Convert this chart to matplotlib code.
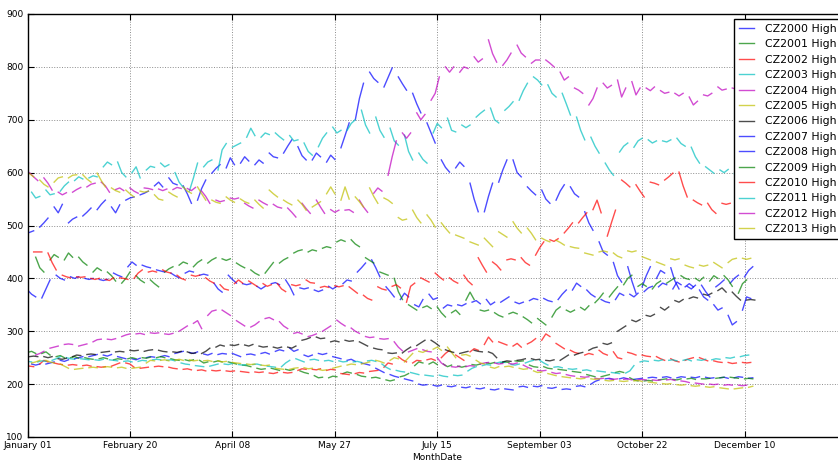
import datetime as dt
import numpy as np
import matplotlib
matplotlib.use("Agg")
import matplotlib.pyplot as plt

# ---------------- data ----------------
years = list(range(2000, 2014))
labels = ["CZ%d High" % y for y in years]
colors = ["b", "g", "r", "c", "m", "y", "k", "b", "b", "g", "r", "c", "m", "y"]
tick_labels = ["January 01", "February 20", "April 08", "May 27", "July 15",
               "September 03", "October 22", "December 10"]
y_ticks = [100, 200, 300, 400, 500, 600, 700, 800, 900]

# weekly readings: [Mon, Wed, Fri] high prices (cents/bu), week by week
CZ2000 = [[238,236,238],[238,240,242],[245,243,246],[248,250,252],[252,254,256],[255,253,256],
          [252,250,248],[248,246,249],[250,252,251],[252,254,252],[258,260,262],[260,258,261],
          [257,255,258],[256,258,257],[258,255,252],[256,257,255],[258,260,257],[262,265,263],
          [268,262,265],[255,252,255],[258,256,258],[252,250,248],[245,247,243],[240,238,236],
          [230,226,222],[218,215,213],[210,208,206],[200,198,199],[198,196,198],[196,195,197],
          [194,193,195],[192,191,193],[190,189,191],[191,190,189],[195,196,194],[196,195,197],
          [193,192,194],[190,191,190],[196,197,195],[200,205,208],[210,211,209],[210,212,210],
          [209,210,211],[212,213,212],[213,214,212],[212,214,213],[213,212,214],[213,211,212],
          [212,213,211],[212,214,213],[211,212,211],[211,211,211]]
CZ2001 = [[260,262,258],[258,261,255],[252,254,250],[250,252,249],[250,248,247],[248,250,248],
          [246,248,247],[248,250,248],[250,249,251],[250,252,250],[248,246,245],[246,244,246],
          [245,240,242],[242,244,242],[242,240,238],[236,235,233],[230,228,229],[230,228,226],
          [228,226,228],[225,222,220],[216,212,213],[212,215,214],[220,223,221],[218,215,214],
          [212,213,211],[208,206,208],[214,216,220],[235,242,240],[238,242,237],[238,233,236],
          [234,232,234],[237,236,238],[240,239,241],[240,242,241],[244,243,244],[236,233,232],
          [233,230,229],[228,227,226],[224,223,222],[218,216,214],[214,216,218],[222,224,222],
          [212,208,206],[206,207,206],[208,209,210],[209,208,210],[210,211,209],[210,210,211],
          [211,212,213],[213,212,211],[210,211,210],[210,210,210]]
CZ2002 = [[236,234,233],[238,245,242],[240,238,237],[236,237,236],[235,236,234],[233,232,233],
          [234,237,240],[240,238,232],[230,231,232],[233,234,233],[232,230,229],[228,229,227],
          [226,227,225],[226,225,226],[225,224,225],[224,223,222],[223,222,223],[221,220,222],
          [222,221,222],[226,229,228],[228,227,229],[226,228,227],[220,219,218],[220,222,221],
          [224,225,226],[232,240,238],[252,246,242],[240,245,244],[246,248,245],[250,258,264],
          [255,250,245],[261,267,264],[275,289,280],[280,277,274],[272,277,270],[276,280,286],
          [283,295,290],[277,272,267],[264,260,258],[255,258,256],[264,258,255],[261,250,248],
          [260,258,255],[255,253,252],[252,248,245],[248,244,242],[245,248,250],[250,247,244],
          [244,242,241],[241,239,240],[241,240,241],[241,241,241]]
CZ2003 = [[245,243,242],[242,244,243],[245,248,252],[250,248,247],[248,247,246],[246,245,247],
          [246,245,244],[243,244,242],[243,245,244],[246,247,246],[245,246,244],[240,238,237],
          [235,234,233],[234,236,238],[238,237,239],[237,236,237],[237,238,236],[234,233,232],
          [233,240,245],[248,245,242],[246,247,245],[244,245,243],[244,242,243],[242,243,241],
          [244,245,243],[238,232,228],[226,224,223],[222,220,218],[217,216,215],[217,215,214],
          [217,216,217],[225,230,233],[235,237,236],[240,242,241],[237,236,238],[240,243,245],
          [245,240,236],[232,233,231],[229,228,229],[226,227,225],[225,224,223],[222,221,220],
          [221,225,235],[242,244,243],[245,244,246],[245,246,244],[245,247,244],[246,245,247],
          [246,248,247],[250,249,251],[252,254,255],[255,255,255]]
CZ2004 = [[255,255,256],[255,258,262],[268,270,272],[275,276,275],[272,274,276],[280,284,285],
          [285,284,286],[290,293,295],[295,296,294],[297,296,297],[295,294,296],[300,305,310],
          [315,320,305],[330,338,340],[340,335,330],[320,315,310],[308,312,318],[324,326,322],
          [318,310,305],[296,298,295],[290,292,295],[300,305,310],[321,315,310],[306,300,296],
          [290,288,289],[286,285,286],[280,270,263],[261,264,267],[265,262,261],[250,240,235],
          [233,232,234],[233,235,234],[238,240,241],[240,238,239],[239,238,240],[236,232,229],
          [226,225,226],[222,220,221],[218,216,215],[214,213,214],[211,210,211],[210,209,210],
          [209,210,208],[208,209,208],[208,207,208],[208,209,207],[206,205,203],[202,201,200],
          [200,199,200],[198,199,198],[198,197,198],[198,198,198]]
CZ2005 = [[240,242,245],[245,242,240],[238,234,230],[228,229,230],[231,232,231],[232,233,232],
          [231,232,230],[230,231,232],[240,245,244],[245,246,244],[245,247,245],[246,244,245],
          [244,245,243],[244,242,243],[241,240,239],[238,237,238],[236,235,236],[230,229,228],
          [228,230,231],[231,229,230],[228,226,227],[230,232,234],[236,238,237],[238,240,242],
          [245,243,240],[245,250,248],[242,250,258],[262,260,264],[266,270,264],[270,260,250],
          [255,256,253],[245,240,238],[232,230,233],[233,234,232],[230,228,229],[225,222,223],
          [220,218,216],[214,213,212],[211,210,211],[210,209,210],[207,206,207],[206,205,206],
          [206,207,205],[204,203,202],[201,200,201],[199,198,199],[197,196,197],[195,194,195],
          [193,192,191],[191,192,193],[194,196,197],[197,197,197]]
CZ2006 = [[252,253,252],[252,250,252],[248,247,249],[252,255,254],[256,257,256],[260,261,262],
          [261,262,261],[264,263,264],[262,264,265],[264,262,261],[261,260,262],[261,258,259],
          [258,262,268],[270,274,272],[274,273,275],[274,272,275],[272,270,271],[270,268,270],
          [270,268,272],[283,285,288],[289,286,287],[280,282,280],[283,281,282],[280,276,272],
          [268,266,265],[259,258,259],[259,265,270],[273,278,283],[283,278,272],[265,262,260],
          [258,260,262],[264,262,261],[261,258,250],[242,244,243],[245,246,248],[248,246,247],
          [245,244,246],[245,250,255],[255,258,260],[264,268,270],[277,275,278],[300,305,310],
          [321,318,322],[330,328,332],[345,340,346],[358,355,360],[362,365,363],[370,368,372],
          [377,382,374],[374,366,359],[359,360,359],[359,359,359]]
CZ2007 = [[378,370,365],[363,380,397],[406,400,397],[403,400,403],[400,398,400],[398,396,398],
          [410,406,403],[422,431,425],[425,422,420],[416,414,412],[410,405,401],[410,414,412],
          [406,408,406],[391,380,374],[406,398,391],[390,388,390],[385,380,385],[390,392,388],
          [397,385,369],[382,380,382],[378,375,378],[385,380,385],[390,397,395],[412,420,429],
          [435,420,403],[384,375,365],[360,372,365],[350,346,360],[370,360,363],[344,350,348],
          [350,348,352],[355,358,352],[360,350,355],[355,360,365],[355,352,355],[358,362,360],
          [362,358,356],[360,370,378],[378,391,385],[378,370,365],[360,356,354],[360,372,368],
          [370,365,372],[375,382,385],[384,391,388],[380,393,388],[385,380,387],[387,375,365],
          [384,390,397],[391,400,406],[403,415,422],[422,422,422]]
CZ2008 = [[488,487,490],[497,505,514],[535,524,540],[505,512,516],[518,525,533],[530,540,548],
          [535,524,539],[548,552,554],[558,561,565],[575,582,573],[590,580,577],[575,560,542],
          [548,570,586],[599,608,615],[609,628,615],[618,630,622],[615,624,618],[637,630,628],
          [637,650,662],[649,632,624],[624,637,630],[620,633,625],[647,670,694],[700,740,769],
          [790,778,771],[762,780,798],[781,768,756],[750,730,713],[694,675,656],[624,610,601],
          [609,620,612],[580,550,526],[526,555,580],[582,605,624],[624,600,592],[573,565,558],
          [567,550,542],[548,565,577],[573,560,554],[526,505,491],[469,450,444],[430,405,393],
          [422,395,372],[384,405,422],[400,415,410],[420,395,380],[384,390,384],[378,365,359],
          [350,340,344],[330,312,318],[340,365,362],[360,360,360]]
CZ2009 = [[462,471,462],[440,420,412],[435,445,440],[435,448,440],[440,431,425],[412,420,415],
          [412,405,395],[391,400,412],[405,397,392],[397,390,384],[412,418,422],[425,431,428],
          [422,430,435],[429,435,439],[437,434,437],[429,424,420],[416,410,406],[410,420,430],
          [429,435,439],[448,452,454],[450,454,452],[457,460,458],[469,473,470],[473,465,460],
          [439,434,429],[412,409,406],[400,375,360],[350,345,340],[345,348,343],[346,335,327],
          [335,340,332],[359,374,360],[340,338,340],[335,330,327],[333,336,333],[327,322,316],
          [324,318,312],[327,340,346],[340,336,340],[345,340,348],[354,362,372],[365,375,384],
          [388,400,406],[385,390,385],[380,390,395],[391,396,401],[405,400,398],[400,395,402],
          [395,405,400],[405,397,385],[372,390,397],[397,397,397]]
CZ2010 = [[450,450,450],[448,430,416],[406,403,401],[403,402,403],[400,398,400],[398,396,401],
          [401,400,398],[400,410,416],[412,414,412],[416,412,410],[406,400,397],[406,404,406],
          [401,395,391],[388,380,378],[390,397,391],[395,390,385],[390,385,388],[390,380,375],
          [388,386,388],[397,392,391],[383,385,383],[386,384,386],[384,378,372],[368,362,359],
          [384,380,378],[385,388,382],[355,385,391],[401,397,393],[410,403,397],[401,395,391],
          [406,395,388],[439,425,412],[431,425,416],[435,437,435],[439,430,425],[444,458,469],
          [473,470,475],[486,495,505],[505,515,524],[530,548,524],[480,505,529],[586,580,573],
          [577,565,554],[582,580,577],[586,592,599],[601,575,554],[548,543,539],[542,530,523],
          [542,540,542],[561,555,554],[550,552,550],[550,550,550]]
CZ2011 = [[563,552,555],[567,558,560],[565,575,582],[585,592,588],[590,594,592],[611,620,615],
          [620,600,592],[600,611,590],[605,612,610],[618,611,615],[600,582,572],[565,590,618],
          [611,620,624],[605,643,655],[648,652,656],[667,684,670],[667,675,672],[675,668,662],
          [670,660,662],[656,640,633],[649,665,675],[686,675,680],[680,693,700],[718,690,675],
          [705,680,667],[684,660,652],[671,640,624],[637,625,618],[675,693,685],[703,680,677],
          [690,685,690],[705,712,718],[722,700,694],[718,725,734],[737,755,769],[781,775,766],
          [766,750,743],[750,730,709],[705,680,662],[667,650,637],[618,605,595],[639,650,656],
          [648,660,665],[662,656,660],[660,658,662],[665,655,650],[648,630,618],[611,605,599],
          [605,600,606],[598,596,592],[590,592,590],[590,590,590]]
CZ2012 = [[600,592,585],[590,580,567],[563,558,562],[563,568,572],[573,578,580],[582,575,563],
          [568,571,566],[571,565,561],[571,570,568],[569,566,569],[568,572,570],[570,566,572],
          [565,555,542],[548,545,547],[552,550,552],[542,537,533],[548,543,539],[540,535,533],
          [533,525,516],[542,532,523],[548,535,523],[530,525,529],[529,530,525],[548,535,525],
          [561,571,565],[595,630,660],[675,665,675],[713,700,710],[737,750,781],[800,790,800],
          [790,800,797],[819,809,815],[851,825,809],[803,813,826],[841,826,819],[807,813,813],
          [813,807,800],[790,775,781],[760,756,750],[728,740,760],[769,760,765],[775,743,760],
          [772,747,760],[760,755,762],[755,750,752],[750,745,750],[743,728,735],[747,745,750],
          [762,756,758],[760,758,762],[757,760,757],[757,757,757]]
CZ2013 = [[605,598,592],[586,578,573],[582,590,592],[590,595,596],[596,588,582],[599,585,573],
          [571,566,563],[567,560,554],[565,563,565],[558,550,548],[563,558,554],[573,565,561],
          [573,560,548],[548,544,542],[554,548,544],[550,545,542],[548,540,533],[567,560,554],
          [548,543,539],[548,540,529],[535,540,545],[560,573,560],[548,573,550],[554,545,535],
          [571,555,542],[552,548,542],[515,510,512],[529,515,505],[520,510,497],[505,495,486],
          [482,479,476],[469,466,463],[476,468,460],[488,483,478],[507,495,486],[495,485,473],
          [476,472,469],[472,468,463],[460,458,457],[448,446,444],[450,452,450],[448,442,439],
          [452,450,452],[441,438,435],[431,428,425],[437,435,437],[425,422,420],[425,423,425],
          [430,425,420],[430,436,438],[438,436,438],[438,438,438]]

series = [CZ2000, CZ2001, CZ2002, CZ2003, CZ2004, CZ2005, CZ2006,
          CZ2007, CZ2008, CZ2009, CZ2010, CZ2011, CZ2012, CZ2013]

WEEKDAY_OFFSETS = (0, 2, 4)   # Mon, Wed, Fri
LAST_DAY = 355                # contract expiry (mid December)


def build_xy(year, weeks):
    wd = dt.date(year, 1, 1).weekday()
    phase = (7 - wd) % 7
    base = phase if phase <= 3 else phase - 7
    xs, ys = [], []
    for k, wk in enumerate(weeks):
        for d, v in zip(WEEKDAY_OFFSETS, wk):
            x = base + 7 * k + d
            if 0 <= x <= LAST_DAY:
                xs.append(x)
                ys.append(v)
        xs.append(np.nan)
        ys.append(np.nan)
    return np.array(xs, float), np.array(ys, float)


# ---------------- figure ----------------
W, H = 838, 462
fig = plt.figure(figsize=(W / 100, H / 100), dpi=100)
ax_left, ax_right, ax_top, ax_bottom = 27.5, 847.0, 14.0, 437.0
ax = fig.add_axes([ax_left / W, (H - ax_bottom) / H,
                   (ax_right - ax_left) / W, (ax_bottom - ax_top) / H])

for year, weeks, col, lab in zip(years, series, colors, labels):
    x, y = build_xy(year, weeks)
    ax.plot(x, y, color=col, alpha=0.7, lw=1.0, label=lab)

ax.set_xlim(0, 400)
ax.set_ylim(100, 900)
ax.set_xticks([50 * i for i in range(len(tick_labels))])
ax.set_xticklabels(tick_labels)
ax.set_yticks(y_ticks)
ax.tick_params(direction="in", top=True, right=True, length=4, width=0.8,
               labelsize=6.5, pad=3)
ax.grid(True, linestyle=":", color="0.55", linewidth=0.7)
for sp in ax.spines.values():
    sp.set_linewidth(1.0)
    sp.set_color("black")
ax.set_xlabel("MonthDate", fontsize=6.5, labelpad=2)

leg = ax.legend(loc="upper left", bbox_to_anchor=(734 / W, 1 - 19 / H),
                bbox_transform=fig.transFigure, borderaxespad=0,
                fontsize=7.8, frameon=True, fancybox=False, framealpha=1,
                edgecolor="black", handlelength=1.4, handletextpad=1.0,
                labelspacing=0.5, borderpad=0.45)
leg.get_frame().set_linewidth(1.0)

fig.savefig("out.png", dpi=100)
